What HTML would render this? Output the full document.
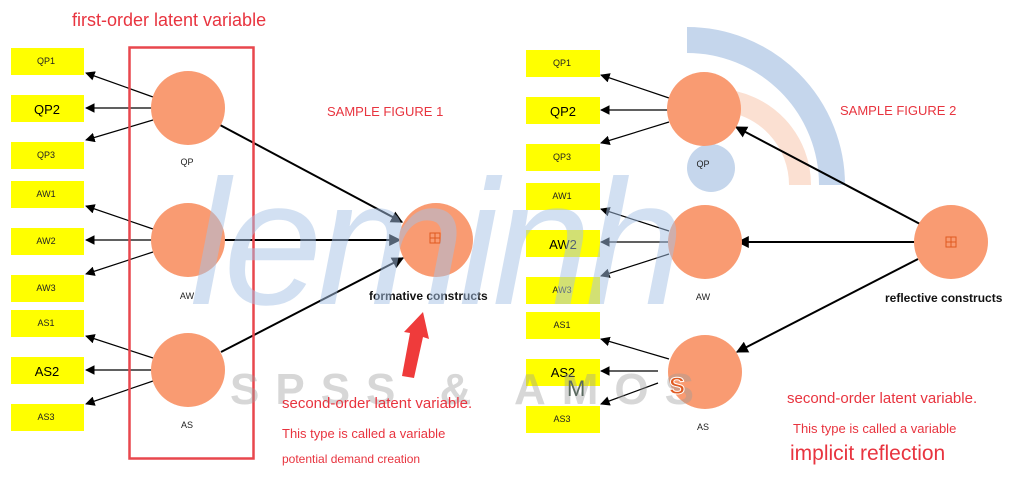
<!DOCTYPE html>
<html><head><meta charset="utf-8"><style>
body{margin:0;background:#fff;}
svg{display:block;font-family:"Liberation Sans",Arial,sans-serif;}
</style></head><body>
<svg width="1024" height="477" viewBox="0 0 1024 477" xmlns="http://www.w3.org/2000/svg">
<defs>
<marker id="a" viewBox="0 0 10 10" refX="9" refY="5" markerWidth="6" markerHeight="6" orient="auto"><path d="M0,0L10,5L0,10z" fill="#000"/></marker>
<marker id="b" viewBox="0 0 10 10" refX="9" refY="5" markerWidth="8" markerHeight="8" orient="auto"><path d="M0,0L10,5L0,10z" fill="#000"/></marker>
</defs>
<path d="M687,40 A145,145 0 0 1 832,185" fill="none" stroke="#c5d6ec" stroke-width="26"/>
<path d="M720,100 A85,85 0 0 1 800,185" fill="none" stroke="#fbe0d2" stroke-width="22"/>
<circle cx="711" cy="168" r="24" fill="#c5d6ec"/>

<g fill="#ffff00">
<rect x="11" y="48" width="73" height="27"/><rect x="11" y="95" width="73" height="27"/><rect x="11" y="142" width="73" height="27"/>
<rect x="11" y="181" width="73" height="27"/><rect x="11" y="228" width="73" height="27"/><rect x="11" y="275" width="73" height="27"/>
<rect x="11" y="310" width="73" height="27"/><rect x="11" y="357" width="73" height="27"/><rect x="11" y="404" width="73" height="27"/>
<rect x="526" y="50" width="74" height="27"/><rect x="526" y="97" width="74" height="27"/><rect x="526" y="144" width="74" height="27"/>
<rect x="526" y="183" width="74" height="27"/><rect x="526" y="230" width="74" height="27"/><rect x="526" y="277" width="74" height="27"/>
<rect x="526" y="312" width="74" height="27"/><rect x="526" y="359" width="74" height="27"/><rect x="526" y="406" width="74" height="27"/>
</g>
<g font-size="9" text-anchor="middle" fill="#222">
<text x="46" y="64">QP1</text><text x="46" y="158">QP3</text><text x="46" y="197">AW1</text><text x="46" y="244">AW2</text><text x="46" y="291">AW3</text><text x="46" y="326">AS1</text><text x="46" y="420">AS3</text>
<text x="562" y="66">QP1</text><text x="562" y="160">QP3</text><text x="562" y="199">AW1</text><text x="562" y="293">AW3</text><text x="562" y="328">AS1</text><text x="562" y="422">AS3</text>
</g>
<g font-size="13" text-anchor="middle" fill="#000">
<text x="47" y="114">QP2</text><text x="47" y="376">AS2</text>
<text x="563" y="116">QP2</text><text x="563" y="249">AW2</text><text x="563" y="377">AS2</text>
</g>

<g stroke="#000" stroke-width="1.2" marker-end="url(#b)">
<line x1="153" y1="97" x2="86" y2="73"/><line x1="152" y1="108" x2="86" y2="108"/><line x1="153" y1="120" x2="86" y2="140"/>
<line x1="153" y1="229" x2="86" y2="206"/><line x1="152" y1="240" x2="86" y2="240"/><line x1="153" y1="252" x2="86" y2="274"/>
<line x1="153" y1="358" x2="86" y2="336"/><line x1="152" y1="370" x2="86" y2="370"/><line x1="153" y1="381" x2="86" y2="404"/>
<line x1="669" y1="98" x2="601" y2="75"/><line x1="668" y1="110" x2="601" y2="110"/><line x1="669" y1="122" x2="601" y2="143"/>
<line x1="669" y1="231" x2="601" y2="209"/><line x1="668" y1="242" x2="601" y2="242"/><line x1="669" y1="254" x2="601" y2="276"/>
<line x1="669" y1="359" x2="601" y2="339"/><line x1="658" y1="371" x2="601" y2="371"/><line x1="658" y1="383" x2="601" y2="404"/>
</g>
<g stroke="#000" stroke-width="2" marker-end="url(#a)">
<line x1="220" y1="125" x2="402" y2="222"/><line x1="224" y1="240" x2="400" y2="240"/><line x1="221" y1="352" x2="403" y2="258"/>
<line x1="920" y1="224" x2="736" y2="127"/><line x1="915" y1="242" x2="738" y2="242"/><line x1="918" y1="259" x2="737" y2="352"/>
</g>

<g fill="#f99b72">
<circle cx="188" cy="108" r="37"/><circle cx="188" cy="240" r="37"/><circle cx="188" cy="370" r="37"/>
<circle cx="436" cy="240" r="37"/>
<circle cx="704" cy="109" r="37"/><circle cx="705" cy="242" r="37"/><circle cx="705" cy="372" r="37"/>
<circle cx="951" cy="242" r="37"/>
</g>
<g fill="none" stroke="#e05a20" stroke-width="1"><rect x="430" y="233" width="10" height="10"/><line x1="435" y1="233" x2="435" y2="243"/><line x1="430" y1="238" x2="440" y2="238"/>
<rect x="946" y="237" width="10" height="10"/><line x1="951" y1="237" x2="951" y2="247"/><line x1="946" y1="242" x2="956" y2="242"/></g>
<g font-size="9" text-anchor="middle" fill="#222">
<text x="187" y="165">QP</text><text x="187" y="299">AW</text><text x="187" y="428">AS</text>
<text x="703" y="167">QP</text><text x="703" y="300">AW</text><text x="703" y="430">AS</text>
</g>
<g font-size="12" font-weight="bold" fill="#111"><text x="369" y="300">formative constructs</text><text x="885" y="302">reflective constructs</text></g>

<rect x="129.5" y="47.5" width="124" height="411" fill="none" stroke="#e8474d" stroke-width="2.5"/>
<path d="M402,376 L410,333 L404,332 L423,312 L429,339 L423,337 L414,378z" fill="#ef3b3b"/>

<text x="190" y="304" font-size="178" font-style="italic" fill="#a6c2e6" fill-opacity="0.5" letter-spacing="-6">leminh</text>
<text x="230" y="404" font-size="44" font-weight="bold" fill="#9a9a9a" fill-opacity="0.4" letter-spacing="16">SPSS &amp; AMOS</text>
<text x="567" y="396" font-size="22" fill="#5a6a60">M</text>
<text x="669" y="394" font-size="24" font-weight="bold" fill="#e05a20" stroke="#fff" stroke-width="1">S</text>

<g fill="#e8343f">
<text x="72" y="26" font-size="18">first-order latent variable</text>
<text x="327" y="116" font-size="13">SAMPLE FIGURE 1</text>
<text x="840" y="115" font-size="13">SAMPLE FIGURE 2</text>
<text x="282" y="408" font-size="15">second-order latent variable.</text>
<text x="282" y="438" font-size="13">This type is called a variable</text>
<text x="282" y="463" font-size="12">potential demand creation</text>
<text x="787" y="403" font-size="15">second-order latent variable.</text>
<text x="793" y="433" font-size="13">This type is called a variable</text>
<text x="790" y="460" font-size="21">implicit reflection</text>
</g>
</svg>
</body></html>
